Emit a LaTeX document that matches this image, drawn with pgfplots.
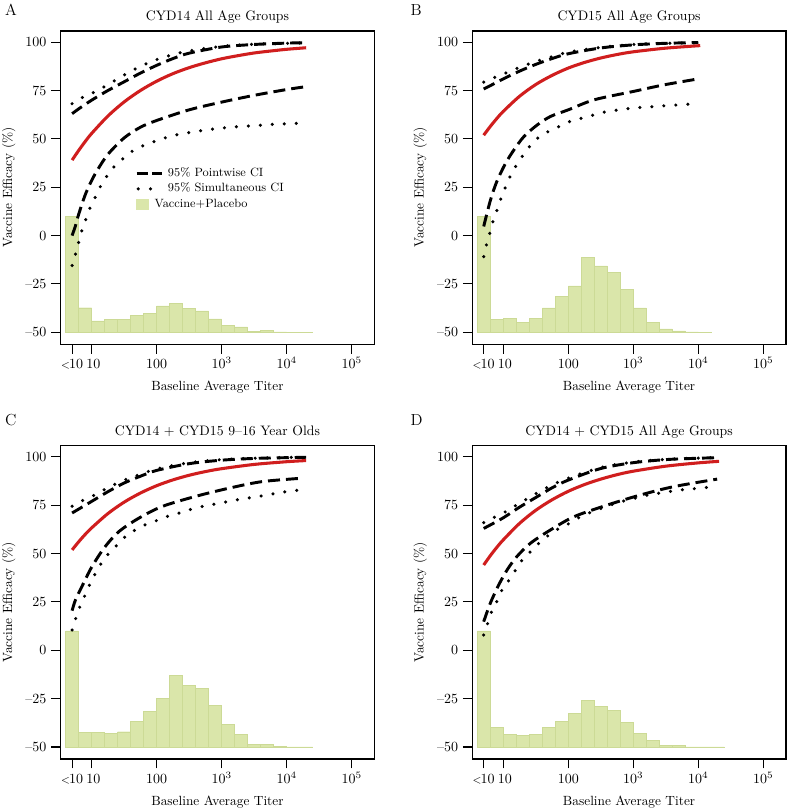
\documentclass[border=0pt]{standalone}
\usepackage{pgfplots}
\pgfplotsset{compat=1.18}
\definecolor{histfill}{RGB}{218,230,170}
\definecolor{histedge}{RGB}{204,218,150}
\definecolor{vered}{RGB}{208,30,30}
\newcommand{\lt}{{\fontsize{8}{8}\selectfont\raisebox{0.3pt}{<}}\kern-0.6pt}
\pgfplotsset{
  panelgeom/.style={at={#1}, anchor=south west, scale only axis, width=235.2pt, height=235pt, xmin=0.523, xmax=5.348},
  histaxis/.style={panelgeom={#1}, ymin=-6.2, ymax=155.8, hide axis, ybar interval},
  mainaxis/.style={panelgeom={#1}, ymin=-56.2, ymax=105.8,
    axis line style={line width=1pt},
    tick align=outside, xtick pos=left, ytick pos=left,
    major tick length=7pt,
    tick style={black, line width=0.8pt},
    xtick={0.69897,1,2,3,4,5},
    xticklabels={\lt 10\hspace{13.5pt},\hspace{2.4pt}10,100,10\textsuperscript{3},10\textsuperscript{4},10\textsuperscript{5}},
    ytick={-50,-25,0,25,50,75,100},
    yticklabels={\textendash 50,\textendash 25,0,25,50,75,100},
    xticklabel style={font=\fontsize{10.5}{12}\selectfont, anchor=base, inner sep=0pt, yshift=-11.4pt},
    yticklabel style={font=\fontsize{10.5}{12}\selectfont, anchor=east, inner sep=0pt, xshift=-3.5pt},
    xlabel={Baseline Average Titer},
    ylabel={Vaccine Efficacy (\%)},
    label style={font=\fontsize{10}{12}\selectfont},
    xlabel style={at={(axis description cs:0.5,-0.148)}, anchor=base},
    ylabel style={at={(axis description cs:-0.1655,0.5)}, anchor=center},
    every axis title shift=0pt,
    title style={at={(axis description cs:0.5,1.0329)}, anchor=base, font=\fontsize{10.3}{12}\selectfont},
  },
  dashci/.style={black, line width=2.2pt, dash pattern=on 9pt off 4.5pt, smooth},
  dotci/.style={black, line width=2.6pt, line cap=round, dash pattern=on 0pt off 9pt, smooth},
  vecurve/.style={vered, line width=2.3pt, smooth},
}
\begin{document}
\begin{tikzpicture}
\useasboundingbox (0,0) rectangle (591pt,607.5pt);

% ================= Panel A =================
\begin{axis}[histaxis={(45.5pt,349.3pt)}]
\addplot[fill=histfill, draw=histedge, line width=0.3pt] coordinates {
(0.6,60) (0.8,12.7) (1.0,5.9) (1.2,6.8) (1.4,6.8) (1.6,8.7) (1.8,9.9) (2.0,13.7) (2.2,15.0) (2.4,12.2)
(2.6,11.1) (2.8,6.9) (3.0,3.5) (3.2,2.8) (3.4,0.5) (3.6,0.9) (3.8,0.2) (4.0,0.1) (4.2,0.1) (4.4,0.1)};
\end{axis}
\begin{axis}[mainaxis={(45.5pt,349.3pt)}, title={CYD14 All Age Groups},
  legend style={at={(axis description cs:0.237,0.5666)}, anchor=north west, draw=none, fill=none,
    inner sep=0pt, font=\fontsize{9}{10}\selectfont, row sep=1.7pt, column sep=2.95pt,
    nodes={inner sep=0.8pt, text height=6.4pt, text depth=1.8pt}},
  legend cell align=left]
\addlegendimage{legend image code/.code={\draw[black, line width=2pt, dash pattern=on 8.75pt off 3pt] (0pt,0pt) -- (18.75pt,0pt);}}
\addlegendentry{95\% Pointwise CI}
\addlegendimage{legend image code/.code={\draw[black, line width=2.6pt, line cap=round, dash pattern=on 0pt off 9.25pt] (1.2pt,0pt) -- (11pt,0pt);}}
\addlegendentry{95\% Simultaneous CI}
\addlegendimage{legend image code/.code={\fill[histfill] (0pt,-3.5pt) rectangle (8.8pt,3.5pt);}}
\addlegendentry{\hspace{-10pt}Vaccine+Placebo}
\addplot[dashci] coordinates {(0.699,63) (0.8,65.5) (1.0,70) (1.25,75) (1.5,79.5) (1.75,84) (2.0,88) (2.25,91.5) (2.5,94.3) (3.0,97.5) (3.5,98.8) (4.0,99.5) (4.3,99.7)};
\addplot[dotci] coordinates {(0.699,68.2) (0.8,70.5) (1.0,73.5) (1.25,78) (1.5,83) (1.75,87.5) (2.0,91) (2.25,93.5) (2.5,95.5) (3.0,97.8) (3.5,98.9) (4.0,99.4) (4.25,99.6)};
\addplot[dashci] coordinates {(0.699,0) (0.75,5) (0.8,11) (0.9,21) (1.0,28.5) (1.1,34.5) (1.25,42) (1.5,50.5) (1.75,56) (2.0,59.5) (2.5,65) (3.0,69) (3.5,72.5) (4.0,75.5) (4.3,77)};
\addplot[dotci] coordinates {(0.699,-15.5) (0.75,-9.7) (0.8,-3.4) (0.85,2.6) (0.91,8.4) (0.97,14) (1.06,20.2) (1.14,25.7) (1.24,31) (1.36,36.2) (1.49,40) (1.64,44) (1.8,46.6) (2.0,49) (2.2,51.2) (2.4,52.7) (2.7,54.3) (3.1,55.9) (3.5,56.8) (3.85,57.6) (4.2,58.1)};
\addplot[vecurve] coordinates {(0.699,39.0) (0.8,44.0) (0.9,48.6) (1.0,52.8) (1.25,61.8) (1.5,69.1) (1.75,75.0) (2.0,79.8) (2.25,83.7) (2.5,86.8) (2.75,89.3) (3.0,91.4) (3.25,93.0) (3.5,94.4) (3.75,95.4) (4.0,96.3) (4.3,97.1)};
\end{axis}

% ================= Panel B =================
\begin{axis}[histaxis={(354.2pt,349.3pt)}]
\addplot[fill=histfill, draw=histedge, line width=0.3pt] coordinates {
(0.6,60) (0.8,6.7) (1.0,7.2) (1.2,5.2) (1.4,7.1) (1.6,12.6) (1.8,18.6) (2.0,24.0) (2.2,38.6) (2.4,34.3)
(2.6,30.9) (2.8,22.2) (3.0,12.6) (3.2,5.2) (3.4,1.7) (3.6,0.7) (3.8,0.2) (4.0,0.1) (4.2,0.1)};
\end{axis}
\begin{axis}[mainaxis={(354.2pt,349.3pt)}, title={CYD15 All Age Groups}]
\addplot[dashci] coordinates {(0.699,75.8) (0.8,77.5) (1.0,81) (1.25,85) (1.5,88.5) (1.75,91.5) (2.0,94) (2.5,97) (3.0,98.6) (3.5,99.4) (4.0,99.8)};
\addplot[dotci] coordinates {(0.699,79.3) (0.8,80.8) (1.0,83.5) (1.25,87) (1.5,90) (1.75,92.5) (2.0,94.8) (2.5,97.3) (3.0,98.8) (3.5,99.4) (3.95,99.6)};
\addplot[dashci] coordinates {(0.699,4.7) (0.8,18) (0.9,27.9) (1.036,37.4) (1.164,44.3) (1.318,51.2) (1.523,57.2) (1.728,61.6) (2.0,65) (2.4,70.2) (3.0,74.5) (3.47,77.9) (4.0,81)};
\addplot[dotci] coordinates {(0.699,-10.9) (0.744,-4.5) (0.795,1.6) (0.846,7.8) (0.908,13.6) (0.969,19.7) (1.036,25.3) (1.113,31) (1.205,36.6) (1.308,41.7) (1.42,46.6) (1.559,51.2) (1.713,54.1) (1.882,56.7) (2.062,59.5) (2.251,61) (2.436,62.8) (2.626,64.3) (2.805,65.1) (2.985,65.9) (3.174,66.4) (3.359,66.8) (3.533,67.2) (3.718,67.6) (3.918,68.1)};
\addplot[vecurve] coordinates {(0.699,51.9) (0.8,56.4) (0.9,60.5) (1.0,64.2) (1.25,72.0) (1.5,78.1) (1.75,82.8) (2.0,86.6) (2.25,89.5) (2.5,91.8) (2.75,93.6) (3.0,95.0) (3.5,96.9) (4.03,98.2)};
\end{axis}

% ================= Panel C =================
\begin{axis}[histaxis={(45.5pt,38.25pt)}]
\addplot[fill=histfill, draw=histedge, line width=0.3pt] coordinates {
(0.6,60) (0.8,7.4) (1.0,7.6) (1.2,6.9) (1.4,7.9) (1.6,13.1) (1.8,18.4) (2.0,25.3) (2.2,36.9) (2.4,31.9)
(2.6,30.2) (2.8,21.4) (3.0,11.6) (3.2,6.4) (3.4,1.4) (3.6,1.4) (3.8,0.2) (4.0,0.1) (4.2,0.05) (4.4,0.05)};
\end{axis}
\begin{axis}[mainaxis={(45.5pt,38.25pt)}, title={CYD14 + CYD15 9\textendash 16 Year Olds}]
\addplot[dashci] coordinates {(0.699,71) (0.8,73) (1.0,77) (1.25,82) (1.5,86.5) (1.75,90) (2.0,93) (2.5,96.5) (3.0,98.3) (3.5,99.2) (4.0,99.6) (4.3,99.8)};
\addplot[dotci] coordinates {(0.699,74.5) (0.8,76.5) (1.0,79.5) (1.25,84) (1.5,88) (1.75,91) (2.0,93.8) (2.5,97) (3.0,98.6) (3.5,99.3) (4.0,99.7) (4.25,99.8)};
\addplot[dashci] coordinates {(0.699,20.5) (0.75,26) (0.85,33) (1.0,43) (1.2,53.3) (1.42,61.4) (1.72,68.2) (2.08,74.3) (2.59,79.5) (3.11,83.8) (3.62,87.2) (4.25,89)};
\addplot[dotci] coordinates {(0.699,10.5) (0.755,16.5) (0.82,22.6) (0.892,28.1) (0.954,32.9) (1.057,39.8) (1.149,45) (1.262,50.1) (1.39,54.4) (1.517,58.8) (1.67,62.2) (1.85,65.3) (2.03,67.4) (2.19,69.5) (2.39,71.4) (2.55,73.1) (2.73,74.6) (2.91,75.7) (3.1,76.9) (3.29,78.1) (3.47,79.1) (3.65,80.0) (3.84,81.2) (4.02,82.1) (4.21,82.9)};
\addplot[vecurve] coordinates {(0.699,51.9) (0.8,56.1) (0.9,59.9) (1.0,63.3) (1.25,70.7) (1.5,76.6) (1.75,81.3) (2.0,85.1) (2.25,88.1) (2.5,90.5) (2.75,92.4) (3.0,93.9) (3.5,96.1) (4.0,97.5) (4.3,98.1)};
\end{axis}

% ================= Panel D =================
\begin{axis}[histaxis={(354.2pt,38.25pt)}]
\addplot[fill=histfill, draw=histedge, line width=0.3pt] coordinates {
(0.6,60) (0.8,10.2) (1.0,6.4) (1.2,6.0) (1.4,6.7) (1.6,10.0) (1.8,13.1) (2.0,17.4) (2.2,24.0) (2.4,20.9)
(2.6,18.8) (2.8,12.6) (3.0,6.9) (3.2,3.6) (3.4,0.9) (3.6,0.7) (3.8,0.1) (4.0,0.1) (4.2,0.1) (4.4,0.1)};
\end{axis}
\begin{axis}[mainaxis={(354.2pt,38.25pt)}, title={CYD14 + CYD15 All Age Groups}]
\addplot[dashci] coordinates {(0.699,63) (0.8,64.8) (1.0,68.5) (1.25,74) (1.5,79) (1.75,84) (2.0,88) (2.5,94) (3.0,97) (3.5,98.6) (4.0,99.3) (4.3,99.6)};
\addplot[dotci] coordinates {(0.699,66) (0.8,67.8) (1.0,71) (1.25,76) (1.5,81) (1.75,85.5) (2.0,89) (2.5,94.5) (3.0,97.3) (3.5,98.7) (4.0,99.4) (4.25,99.6)};
\addplot[dashci] coordinates {(0.699,14.8) (0.8,24.3) (0.93,33.8) (1.06,41.6) (1.21,48.5) (1.42,55.4) (1.73,62.3) (2.09,69.1) (2.6,75.1) (3.11,80.3) (3.62,84.6) (4.29,88.5)};
\addplot[dotci] coordinates {(0.699,7.9) (0.76,13.9) (0.82,20) (0.9,25.2) (0.98,31.2) (1.09,36.4) (1.19,41.6) (1.29,46.7) (1.42,51) (1.55,55.4) (1.7,59.6) (1.86,63.1) (2.04,66) (2.19,69.1) (2.37,71.7) (2.55,73.9) (2.73,76) (2.91,77.7) (3.09,79.1) (3.27,80.6) (3.45,81.5) (3.63,82.5) (3.81,83.2) (3.98,83.7) (4.16,84.3)};
\addplot[vecurve] coordinates {(0.699,44.1) (0.8,48.9) (0.9,53.2) (1.0,57.1) (1.25,65.6) (1.5,72.4) (1.75,77.8) (2.0,82.2) (2.25,85.7) (2.5,88.5) (2.75,90.8) (3.0,92.6) (3.5,95.2) (4.0,96.9) (4.32,97.7)};
\end{axis}

% panel letters
\node[anchor=base west, inner sep=0pt, font=\fontsize{12}{14}\selectfont] at (3.6pt,596.2pt) {A};
\node[anchor=base west, inner sep=0pt, font=\fontsize{12}{14}\selectfont] at (307.8pt,596.2pt) {B};
\node[anchor=base west, inner sep=0pt, font=\fontsize{12}{14}\selectfont] at (3.6pt,288.4pt) {C};
\node[anchor=base west, inner sep=0pt, font=\fontsize{12}{14}\selectfont] at (307.8pt,288.4pt) {D};
\end{tikzpicture}
\end{document}
